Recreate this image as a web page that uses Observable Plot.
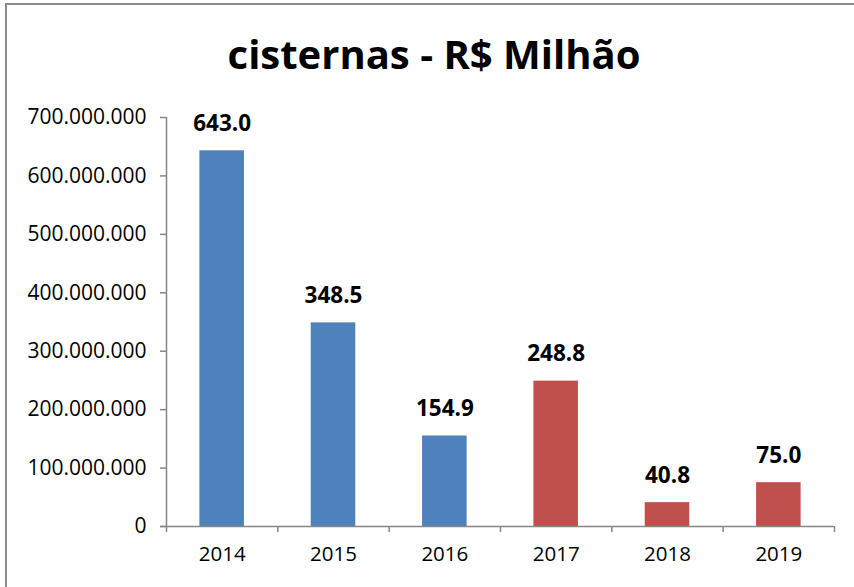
<!DOCTYPE html>
<html>
<head>
<meta charset="utf-8">
<script src="https://cdn.jsdelivr.net/npm/d3@7"></script>
<script src="https://cdn.jsdelivr.net/npm/@observablehq/plot@0.6"></script>
<style>
  html, body { margin: 0; padding: 0; background: #fff; }
  #wrap { position: relative; width: 854px; height: 587px; overflow: hidden; font-family: "Open Sans", sans-serif; }
  #frame { position: absolute; left: 5px; top: 3px; width: 900px; height: 700px; border-top: 2px solid #8a8a8a; border-left: 2px solid #8a8a8a; }
  #title { position: absolute; left: 0; width: 868px; top: 26px; text-align: center; font-weight: bold; font-size: 40px; line-height: 56px; color: #000; }
  #chart { position: absolute; left: 0; top: 0; }
</style>
</head>
<body>
<div id="wrap">
  <div id="frame"></div>
  <div id="chart"></div>
  <div id="title">cisternas - R$ Milhão</div>
</div>
<script>
const years = ["2014", "2015", "2016", "2017", "2018", "2019"];
const values = [643.0e6, 348.5e6, 154.9e6, 248.8e6, 40.8e6, 75.0e6];
const groups = ["a", "a", "a", "b", "b", "b"];
const yTicks = [0, 100e6, 200e6, 300e6, 400e6, 500e6, 600e6, 700e6];

const data = years.map((y, i) => ({year: y, i, value: values[i], group: groups[i]}));
const locale = d3.formatLocale({decimal: ",", thousands: ".", grouping: [3], currency: ["R$", ""]});
const fmtY = locale.format(",d");
const axisColor = "#868686";

const chart = Plot.plot({
  width: 854,
  height: 587,
  marginLeft: 166,
  marginRight: 20,
  marginTop: 117,
  marginBottom: 61,
  style: {fontFamily: "'Open Sans', sans-serif", fontSize: "20px", color: "#000", background: "transparent"},
  x: {type: "linear", domain: [0, years.length], label: null},
  y: {domain: [0, 700e6], label: null},
  color: {domain: ["a", "b"], range: ["#4F81BD", "#C0504D"]},
  marks: [
    Plot.rectY(data, {x1: d => d.i + 0.3, x2: d => d.i + 0.7, y: "value", fill: "group"}),
    Plot.ruleY([0], {x1: -0.054, x2: years.length, stroke: axisColor, strokeWidth: 1.5}),
    Plot.ruleX([0], {y1: 0, y2: 700e6, stroke: axisColor, strokeWidth: 1.5}),
    Plot.axisY({ticks: yTicks, tickFormat: fmtY, tickSize: 6, tickPadding: 14, stroke: axisColor, strokeWidth: 1.5, fontSize: 21, fill: "#000", label: null}),
    Plot.axisX({ticks: d3.range(0, years.length + 1), tickFormat: () => "", tickSize: 6, stroke: axisColor, strokeWidth: 1.5, label: null}),
    Plot.axisX({ticks: d3.range(years.length).map(i => i + 0.5), tickFormat: v => years[Math.floor(v)], tickSize: 0, tickPadding: 20, fontSize: 20.5, fill: "#000", label: null}),
    Plot.text(data, {x: d => d.i + 0.5, y: "value", text: d => (d.value / 1e6).toFixed(1), dy: -27, fontWeight: "bold", fontSize: 22.5, fill: "#000"})
  ]
});
document.getElementById("chart").appendChild(chart);
</script>
</body>
</html>
